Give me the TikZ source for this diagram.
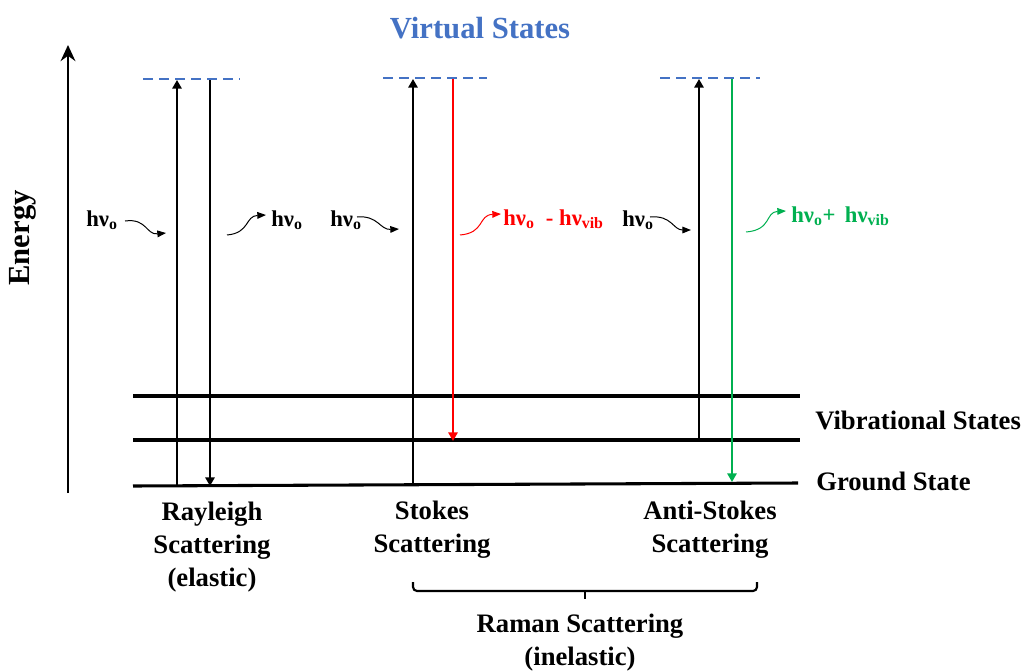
\documentclass[tikz,border=0pt]{standalone}
\usepackage{fontspec}
\setmainfont{Liberation Serif}
\usetikzlibrary{arrows.meta}
\definecolor{vblue}{HTML}{4472C4}
\definecolor{sred}{HTML}{FF0000}
\definecolor{agreen}{HTML}{00B050}
\begin{document}
\begin{tikzpicture}[x=0.75pt,y=-0.75pt,
  lvl/.style={line width=2.3pt},
  trans/.style={line width=1.5pt,-{Triangle[length=6.5pt,width=7pt]}},
  virt/.style={line width=2.2pt,dash pattern=on 7.5pt off 4.5pt,draw=vblue},
  lab/.style={font=\bfseries\fontsize{20}{24.75}\selectfont,align=center,inner sep=0},
  hv/.style={font=\bfseries\fontsize{17}{19}\selectfont,inner sep=0,anchor=west},
  squig/.style={line width=0.75pt,-{Triangle[length=6.5pt,width=5pt]}}]
\useasboundingbox (0,0) rectangle (1024,671);

% titles
\node[font=\bfseries\fontsize{23}{26}\selectfont,text=vblue] (vt) at (480,28) {Virtual States};
\node[font=\bfseries\fontsize{23}{26}\selectfont,rotate=90] (en) at (23,238) {Energy};

% energy axis
\coordinate (ax0) at (68,493);
\coordinate (ax1) at (68,45);
\draw[line width=2.2pt,-{Stealth[length=12pt,width=11pt]}] (ax0) -- (ax1);

% levels
\coordinate (g0) at (133,486); \coordinate (g1) at (798,483);
\coordinate (v0) at (133,440); \coordinate (v1) at (800,440);
\coordinate (u0) at (133,396); \coordinate (u1) at (800,396);
\draw[lvl] (g0) -- (g1);
\draw[lvl] (v0) -- (v1);
\draw[lvl] (u0) -- (u1);
\node[lab,anchor=west] (vs) at (815,420) {Vibrational States};
\node[lab,anchor=west] (gs) at (816,481) {Ground State};

% virtual states
\coordinate (r0) at (143,79); \coordinate (r1) at (240,79);
\coordinate (s0) at (383,78); \coordinate (s1) at (487,78);
\coordinate (a0) at (660,78); \coordinate (a1) at (760,78);
\draw[virt] (r0) -- (r1);
\draw[virt] (s0) -- (s1);
\draw[virt] (a0) -- (a1);

% Rayleigh
\coordinate (ru0) at (177,486); \coordinate (ru1) at (177,80);
\coordinate (rd0) at (210,80);  \coordinate (rd1) at (210,486);
\draw[trans] (ru0) -- (ru1);
\draw[trans] (rd0) -- (rd1);
% Stokes
\coordinate (su0) at (413,485); \coordinate (su1) at (413,79);
\coordinate (sd0) at (453,79);  \coordinate (sd1) at (453,441);
\draw[trans] (su0) -- (su1);
\draw[trans,draw=sred,-{Triangle[length=6.5pt,width=7pt,fill=sred]}] (sd0) -- (sd1);
% Anti-Stokes
\coordinate (au0) at (699,440); \coordinate (au1) at (699,79);
\coordinate (ad0) at (732,79);  \coordinate (ad1) at (732,482);
\draw[trans] (au0) -- (au1);
\draw[trans,draw=agreen,-{Triangle[length=6.5pt,width=7pt,fill=agreen]}] (ad0) -- (ad1);

% photon labels
\node[hv] (h1) at (86,220) {hν\textsubscript{o}};
\node[hv] (h2) at (271,220) {hν\textsubscript{o}};
\node[hv] (h3) at (330,220) {hν\textsubscript{o}};
\node[hv,text=sred] (h4) at (503,219) {hν\textsubscript{o}\ \ - hν\textsubscript{vib}};
\node[hv] (h5) at (622,220) {hν\textsubscript{o}};
\node[hv,text=agreen] (h6) at (791,216) {hν\textsubscript{o}+ \,hν\textsubscript{vib}};

% squiggles
\coordinate (q1a) at (125,221); \coordinate (q1b) at (166,233);
\draw[squig] (q1a) .. controls (147,218) and (146,235) .. (q1b);
\coordinate (q2a) at (227,235); \coordinate (q2b) at (266,215);
\draw[squig] (q2a) .. controls (250,233) and (245,216) .. (q2b);
\coordinate (q3a) at (357,217); \coordinate (q3b) at (399,229);
\draw[squig] (q3a) .. controls (378,215) and (380,230) .. (q3b);
\coordinate (q4a) at (460,235); \coordinate (q4b) at (501,214);
\draw[squig,draw=sred,-{Triangle[length=6.5pt,width=5pt,fill=sred]}] (q4a) .. controls (485,233) and (478,215) .. (q4b);
\coordinate (q5a) at (650,217); \coordinate (q5b) at (691,230);
\draw[squig] (q5a) .. controls (672,215) and (673,230) .. (q5b);
\coordinate (q6a) at (746,232); \coordinate (q6b) at (786,211);
\draw[squig,draw=agreen,-{Triangle[length=6.5pt,width=5pt,fill=agreen]}] (q6a) .. controls (772,230) and (765,212) .. (q6b);

% bottom labels
\node[lab] (rl) at (212,547) {Rayleigh\\Scattering\\(elastic)};
\node[lab] (sl) at (432,530) {Stokes\\Scattering};
\node[lab] (al) at (710,530) {Anti-Stokes\\Scattering};

% brace
\coordinate (b0) at (413,582); \coordinate (b1) at (757,582);
\coordinate (bm) at (585,591); \coordinate (bt) at (585,599);
\draw[line width=1.6pt,rounded corners=3pt] (b0) -- (413,591) -- (757,591) -- (b1);
\draw[line width=1.6pt] (bm) -- (bt);
\node[lab] (rm) at (580,643) {Raman Scattering\\(inelastic)};
\end{tikzpicture}
\end{document}
